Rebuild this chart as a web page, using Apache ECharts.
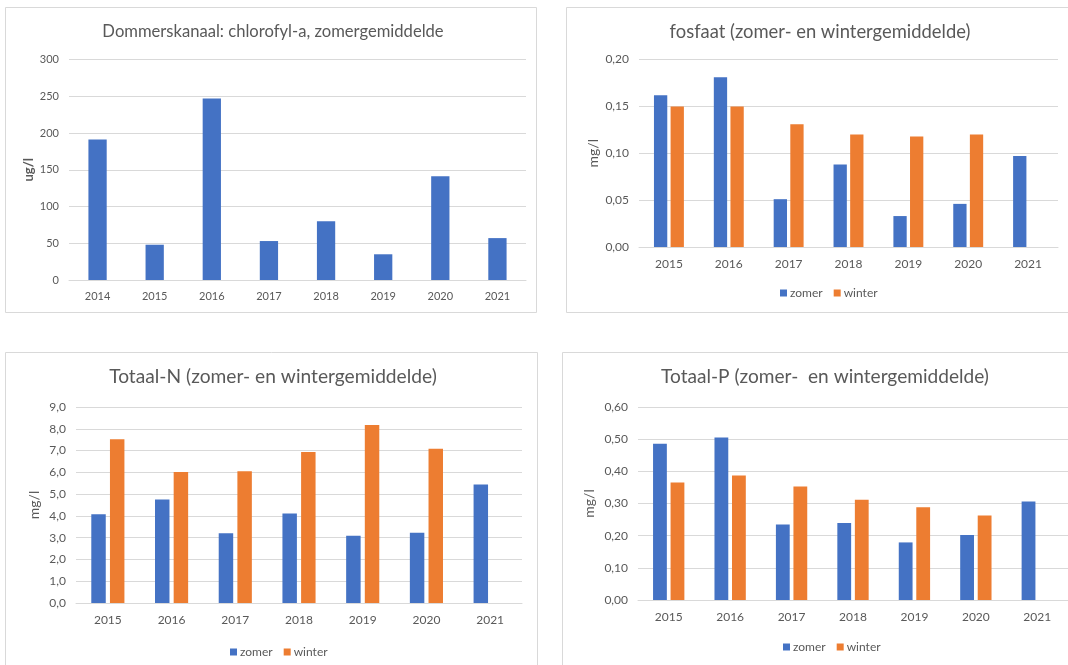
<!DOCTYPE html>
<html>
<head>
<meta charset="utf-8">
<script src="https://cdn.jsdelivr.net/npm/echarts@6/dist/echarts.min.js"></script>
<style>
html,body{margin:0;padding:0;background:#fff;}
#c{width:1068px;height:665px;}
</style>
</head>
<body>
<div id="c"></div>
<script>
// ---- data ----
const chlYears = ['2014','2015','2016','2017','2018','2019','2020','2021'];
const chlValues = [191, 48, 247, 53, 80, 35, 141, 57];

const years = ['2015','2016','2017','2018','2019','2020','2021'];
const fosZomer  = [0.162, 0.181, 0.051, 0.088, 0.033, 0.046, 0.097];
const fosWinter = [0.150, 0.150, 0.131, 0.120, 0.118, 0.120, null];
const nZomer  = [4.08, 4.75, 3.20, 4.11, 3.09, 3.23, 5.44];
const nWinter = [7.52, 6.02, 6.05, 6.93, 8.17, 7.08, null];
const pZomer  = [0.486, 0.505, 0.235, 0.239, 0.179, 0.202, 0.306];
const pWinter = [0.365, 0.387, 0.353, 0.312, 0.288, 0.263, null];

const titles = [
  'Dommerskanaal: chlorofyl-a, zomergemiddelde',
  'fosfaat (zomer- en wintergemiddelde)',
  'Totaal-N (zomer- en wintergemiddelde)',
  'Totaal-P (zomer-  en wintergemiddelde)'
];
const seriesNames = ['zomer', 'winter'];

// ---- styles ----
const FONT = 'Lato';
const TXT = '#595959';
const GRID = '#d9d9d9';
const BLUE = '#4472C4';
const ORANGE = '#ED7D31';

const comma = d => v => v.toFixed(d).replace('.', ',');

function xAx(i, cats, fs) {
  return {
    type: 'category', gridIndex: i, data: cats,
    axisLine: {lineStyle: {color: GRID}},
    axisTick: {show: false},
    axisLabel: {color: TXT, fontFamily: FONT, fontSize: fs, margin: 11}
  };
}
function yAx(i, max, interval, fmt, name, nameGap, fs, bold) {
  return {
    type: 'value', gridIndex: i, min: 0, max: max, interval: interval,
    name: name, nameLocation: 'middle', nameGap: nameGap, nameRotate: 90,
    nameTextStyle: {color: TXT, fontFamily: FONT, fontSize: bold ? 13 : 14, fontWeight: bold ? 'bold' : 'normal'},
    axisLine: {show: false}, axisTick: {show: false},
    splitLine: {lineStyle: {color: GRID, width: 1}},
    axisLabel: {color: TXT, fontFamily: FONT, fontSize: fs, margin: 10, formatter: fmt}
  };
}
function bar(i, name, data, color, catGap, gap) {
  return {
    type: 'bar', name: name, xAxisIndex: i, yAxisIndex: i, data: data,
    itemStyle: {color: color}, barCategoryGap: catGap, barGap: gap,
    silent: true, animation: false
  };
}
function legend(left, top) {
  return {
    data: seriesNames, left: left, top: top, itemWidth: 7, itemHeight: 7, itemGap: 11,
    icon: 'rect', selectedMode: false,
    textStyle: {color: TXT, fontFamily: FONT, fontSize: 12, padding: [0,0,0,-2]}
  };
}
function titleText(text, x, y, fs) {
  return {type: 'text', silent: true,
    style: {text: text, x: x, y: y, textAlign: 'center', textVerticalAlign: 'middle',
            fill: TXT, font: fs + 'px ' + FONT}};
}
function box(x, y, w, h) {
  return {type: 'rect', shape: {x: x, y: y, width: w, height: h},
          style: {fill: 'none', stroke: GRID, lineWidth: 1}, silent: true};
}

const chart = echarts.init(document.getElementById('c'));
chart.setOption({
  animation: false,
  backgroundColor: '#fff',
  graphic: [
    box(5.5, 7.5, 531, 305),
    box(566.5, 7.5, 520, 305),
    box(5.5, 352.5, 532, 330),
    box(562.5, 352.5, 520, 330),
    titleText(titles[0], 273, 32, 16.6),
    titleText(titles[1], 820, 32, 18.4),
    titleText(titles[2], 273, 377, 19.2),
    titleText(titles[3], 825, 377, 19.1)
  ],
  grid: [
    {left: 69, top: 59.5, width: 457, height: 220.5},
    {left: 639, top: 59.5, width: 419, height: 187.5},
    {left: 76, top: 407, width: 446, height: 196},
    {left: 638, top: 407, width: 432, height: 193}
  ],
  legend: [legend(775, 282), legend(225, 641), legend(778, 636)],
  xAxis: [
    xAx(0, chlYears, 11),
    xAx(1, years, 12),
    xAx(2, years, 12),
    xAx(3, years, 12)
  ],
  yAxis: [
    yAx(0, 300, 50, v => String(v), 'ug/l', 34, 11, true),
    yAx(1, 0.2, 0.05, comma(2), 'mg/l', 39, 12, false),
    yAx(2, 9, 1, comma(1), 'mg/l', 35, 12, false),
    yAx(3, 0.6, 0.1, comma(2), 'mg/l', 42, 12, false)
  ],
  series: [
    bar(0, 'chlorofyl-a', chlValues, BLUE, '68%', '0%'),
    bar(1, 'zomer', fosZomer, BLUE, '50%', '25%'),
    bar(1, 'winter', fosWinter, ORANGE, '50%', '25%'),
    bar(2, 'zomer', nZomer, BLUE, '48%', '29%'),
    bar(2, 'winter', nWinter, ORANGE, '48%', '29%'),
    bar(3, 'zomer', pZomer, BLUE, '49%', '27%'),
    bar(3, 'winter', pWinter, ORANGE, '49%', '27%')
  ]
});
</script>
</body>
</html>
